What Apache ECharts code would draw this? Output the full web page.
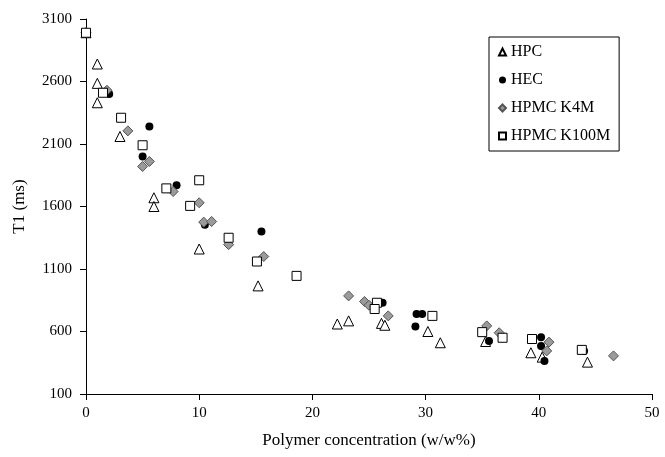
<!DOCTYPE html>
<html>
<head>
<meta charset="utf-8">
<script src="https://cdn.jsdelivr.net/npm/echarts@6/dist/echarts.min.js"></script>
<style>
  html, body { margin: 0; padding: 0; background: #fff; }
  #main { width: 665px; height: 457px; }
</style>
</head>
<body>
<div id="main"></div>
<script>
// values
var hpcX = [0, 1, 1, 1, 3, 6, 6, 10, 15.2, 22.2, 23.2, 26.1, 26.4, 30.2, 31.3, 35.3, 39.3, 40.3, 44.3];
var hpcY = [2990, 2740, 2585, 2430, 2160, 1670, 1600, 1260, 965, 660, 685, 665, 650, 600, 510, 520, 430, 395, 355];

var hecX = [0, 2.05, 5.6, 5.0, 8.0, 10.5, 15.5, 26.2, 29.2, 29.7, 29.1, 35.6, 40.2, 40.2, 40.5, 44];
var hecY = [2990, 2500, 2240, 2000, 1770, 1455, 1400, 830, 740, 740, 640, 525, 555, 485, 365, 445];

var k4mX = [0, 1.85, 3.7, 5.0, 5.6, 7.7, 10.0, 10.4, 11.1, 12.6, 15.7, 23.2, 24.6, 25.0, 26.7, 35.4, 36.5, 40.9, 40.7, 46.6];
var k4mY = [2990, 2530, 2205, 1920, 1960, 1720, 1630, 1475, 1480, 1295, 1200, 885, 840, 810, 725, 645, 590, 515, 445, 405];

var k100X = [0, 1.5, 3.1, 5.0, 7.1, 10.0, 9.2, 12.6, 15.1, 18.6, 25.7, 25.5, 30.6, 35.0, 36.8, 39.4, 43.8];
var k100Y = [2990, 2510, 2310, 2090, 1745, 1810, 1605, 1350, 1160, 1045, 830, 780, 725, 595, 550, 540, 453];

var seriesNames = ['HPC', 'HEC', 'HPMC K4M', 'HPMC K100M'];

function pairs(xs, ys) {
    return xs.map(function(x, i) { return [x, ys[i]]; });
}

var font = '"Liberation Serif", "DejaVu Serif", serif';

var option = {
    animation: false,
    backgroundColor: '#fff',
    grid: { left: 86, right: 13, top: 19, bottom: 63 },
    legend: {
        orient: 'vertical',
        left: 489,
        top: 37,
        padding: [7, 9, 7, 9],
        borderColor: '#000',
        borderWidth: 1,
        itemWidth: 7,
        itemHeight: 7,
        itemGap: 12,
        selectedMode: false,
        textStyle: { fontFamily: font, fontSize: 16, color: '#000' },
        data: seriesNames
    },
    xAxis: {
        type: 'value',
        min: 0,
        max: 50,
        interval: 10,
        name: 'Polymer concentration (w/w%)',
        nameLocation: 'middle',
        nameGap: 38,
        nameTextStyle: { fontFamily: font, fontSize: 17, color: '#000' },
        axisLine: { show: true, onZero: false, lineStyle: { color: '#000', width: 1 } },
        axisTick: { show: true, length: 6, lineStyle: { color: '#000' } },
        axisLabel: { fontFamily: font, fontSize: 15, color: '#000', margin: 12 },
        splitLine: { show: false }
    },
    yAxis: {
        type: 'value',
        min: 100,
        max: 3100,
        interval: 500,
        name: 'T1 (ms)',
        nameLocation: 'middle',
        nameGap: 58,
        nameTextStyle: { fontFamily: font, fontSize: 17, color: '#000' },
        axisLine: { show: true, onZero: false, lineStyle: { color: '#000', width: 1 } },
        axisTick: { show: true, length: 6, lineStyle: { color: '#000' } },
        axisLabel: {
            fontFamily: font, fontSize: 15, color: '#000', margin: 14,
            formatter: function(v) { return String(v); }
        },
        splitLine: { show: false }
    },
    series: [
        {
            name: 'HPC', type: 'scatter', symbol: 'triangle', symbolSize: 10,
            itemStyle: { color: '#fff', borderColor: '#000', borderWidth: 1, opacity: 1 },
            data: pairs(hpcX, hpcY)
        },
        {
            name: 'HEC', type: 'scatter', symbol: 'circle', symbolSize: 8,
            itemStyle: { color: '#000', opacity: 1 },
            data: pairs(hecX, hecY)
        },
        {
            name: 'HPMC K4M', type: 'scatter', symbol: 'diamond', symbolSize: 10,
            itemStyle: { color: '#9a9a9a', borderColor: '#555', borderWidth: 1, opacity: 1 },
            data: pairs(k4mX, k4mY)
        },
        {
            name: 'HPMC K100M', type: 'scatter', symbol: 'rect', symbolSize: 9,
            itemStyle: { color: '#fff', borderColor: '#000', borderWidth: 1, opacity: 1 },
            data: pairs(k100X, k100Y)
        }
    ]
};

var chart = echarts.init(document.getElementById('main'));
chart.setOption(option);
</script>
</body>
</html>
